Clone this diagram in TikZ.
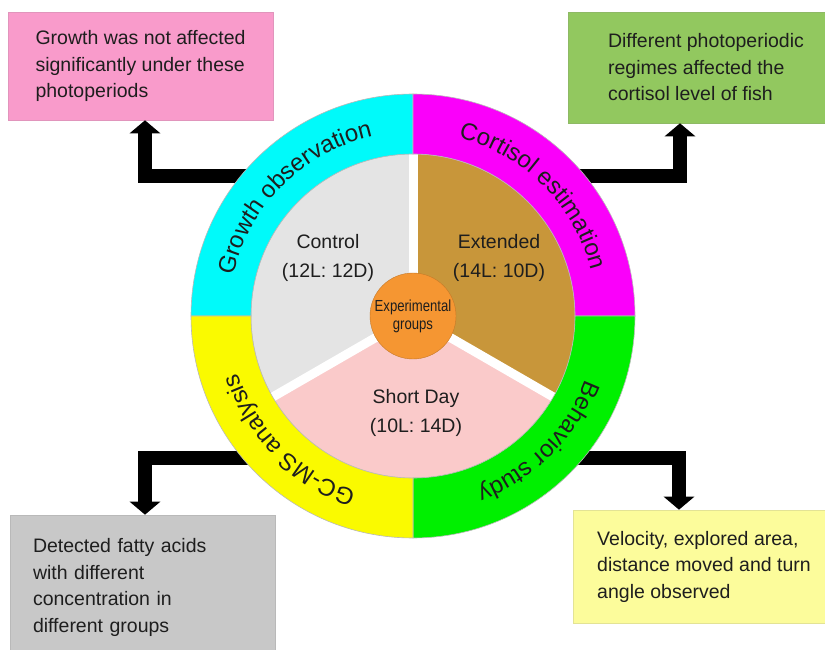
\documentclass[tikz,border=0pt]{standalone}
\usepackage{fontspec}
\setmainfont{Liberation Sans}
\newfontfamily\hubfont[FakeStretch=0.82]{Liberation Sans}
\usetikzlibrary{arrows.meta,decorations.text}

\definecolor{boxpink}{RGB}{249,155,203}
\definecolor{boxgreen}{RGB}{146,200,95}
\definecolor{boxgray}{RGB}{200,200,200}
\definecolor{boxyellow}{RGB}{252,252,155}
\definecolor{ringcyan}{RGB}{0,250,250}
\definecolor{ringmagenta}{RGB}{250,0,250}
\definecolor{ringyellow}{RGB}{250,250,0}
\definecolor{ringgreen}{RGB}{0,240,0}
\definecolor{ctrlgray}{RGB}{228,228,228}
\definecolor{extbrown}{RGB}{200,150,58}
\definecolor{shortpink}{RGB}{250,202,202}
\definecolor{exporange}{RGB}{245,150,50}
\definecolor{inktext}{RGB}{30,30,30}

\tikzset{
  resultbox/.style={draw=#1!80!gray, fill=#1, line width=0.6pt, align=left,
    text=inktext, font=\fontsize{19.5}{26.5}\selectfont},
  flowarrow/.style={line width=14pt, line join=miter,
    -{Triangle[width=30pt,length=13pt]}},
  ringseg/.style={draw=gray!55, line width=0.6pt},
  pieseg/.style={draw=gray!45, line width=0.5pt},
  grouplabel/.style={align=center, text=inktext, font=\fontsize{19.5}{29}\selectfont},
  ringlabel/.style={decorate, decoration={text along path, text align=center,
    text color=inktext, text={|\fontsize{24}{24}\selectfont|#1}}}
}

\begin{document}
\begin{tikzpicture}[x=1pt, y=1pt]
    \useasboundingbox (0,0) rectangle (825,649);
    \clip (0,0) rectangle (825,649);

    % result boxes
    \node[resultbox=boxpink, minimum width=265pt, minimum height=108pt] (growthres) at (140.5,583)
        {Growth was not affected\\significantly under these\\photoperiods};
    \node[resultbox=boxgreen, minimum width=276pt, minimum height=111pt] (cortres) at (706,581.5)
        {Different photoperiodic\\regimes affected the\\cortisol level of fish};
    \node[resultbox=boxgray, text width=219pt, inner xsep=23pt, minimum height=145pt] (gcmsres) at (142.5,61.5)
        {Detected fatty acids\\with different\\concentration in\\different groups};
    \node[resultbox=boxyellow, minimum width=262pt, minimum height=113pt] (behavres) at (704,82.5)
        {Velocity, explored area,\\distance moved and turn\\angle observed};

    % arrows start under the ring
    \coordinate (hub) at (413,333);
    \coordinate (growthout) at (290,473);
    \coordinate (cortout) at (536,473);
    \coordinate (gcmsout) at (290,191);
    \coordinate (behavout) at (536,191);
    \draw[flowarrow] (growthout) -| ([xshift=4.5pt]growthres.south);
    \draw[flowarrow] (cortout) -| ([xshift=-26pt]cortres.south);
    \draw[flowarrow] (gcmsout) -| ([xshift=2.5pt]gcmsres.north);
    \draw[flowarrow] (behavout) -| ([xshift=-25pt]behavres.north);

    % groups
    \foreach \a/\col in {90/ctrlgray, 210/shortpink, -30/extbrown}
        \filldraw[pieseg, fill=\col] (hub) -- ++(\a:162) arc[start angle=\a, end angle=\a+120, radius=162] -- cycle;
    \foreach \a in {90,210,330}
        \draw[white, line width=9pt] (hub) -- ++(\a:163);

    % ring of studies
    \foreach \a/\col in {90/ringcyan, 0/ringmagenta, -90/ringgreen, 180/ringyellow}
        \filldraw[ringseg, fill=\col] (hub) ++(\a:162) -- ++(\a:60)
            arc[start angle=\a, end angle=\a+90, radius=222] -- ++(\a+90:-60)
            arc[start angle=\a+90, end angle=\a, radius=162] -- cycle;

    \node[circle, draw=exporange!80!black, fill=exporange, minimum size=86pt, inner sep=0pt,
        align=center, text=inktext, font=\hubfont\fontsize{16}{18}\selectfont] (exp) at (hub) {Experimental\\groups};

    \node[grouplabel] (ctrl) at (328,391.5) {Control\\(12L: 12D)};
    \node[grouplabel] (ext) at (499,391.5) {Extended\\(14L: 10D)};
    \node[grouplabel] (short) at (416,236) {Short Day\\(10L: 14D)};

    \path[ringlabel=Growth observation] (hub) ++(180:184) arc[start angle=180, end angle=90, radius=184];
    \path[ringlabel=Cortisol estimation] (hub) ++(90:184) arc[start angle=90, end angle=0, radius=184];
    \path[ringlabel=Behavior study] (hub) ++(0:184) arc[start angle=0, end angle=-90, radius=184];
    \path[ringlabel=GC-MS analysis] (hub) ++(-90:184) arc[start angle=-90, end angle=-180, radius=184];
\end{tikzpicture}
\end{document}
